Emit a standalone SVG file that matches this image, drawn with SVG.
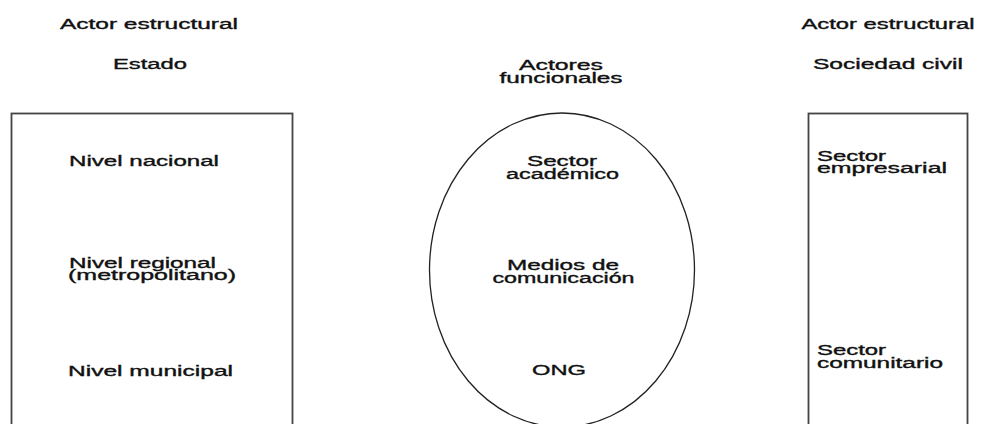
<svg xmlns="http://www.w3.org/2000/svg" width="981" height="424" viewBox="0 0 981 424">
<style>
text{font-family:"Liberation Sans",Arial,sans-serif;font-size:14px;fill:#111;stroke:#111;stroke-width:0.35;}
.m{text-anchor:middle;}
.box{fill:none;stroke:#444;stroke-width:1.8;}
.ell{fill:none;stroke:#222;stroke-width:1.3;}
</style>
<rect width="981" height="424" fill="#fff"/>
<g id="estado">
<text class="m" x="149" y="28.5" textLength="178" lengthAdjust="spacingAndGlyphs">Actor estructural</text>
<text class="m" x="150" y="68.5" textLength="74" lengthAdjust="spacingAndGlyphs">Estado</text>
<rect class="box" x="11.5" y="113.5" width="281" height="330"/>
<text x="69" y="166" textLength="150" lengthAdjust="spacingAndGlyphs">Nivel nacional</text>
<text x="69" y="267.5" textLength="147" lengthAdjust="spacingAndGlyphs">Nivel regional</text>
<text x="68" y="280" textLength="168" lengthAdjust="spacingAndGlyphs">(metropolitano)</text>
<text x="68" y="376" textLength="165" lengthAdjust="spacingAndGlyphs">Nivel municipal</text>
</g>
<g id="funcionales">
<text class="m" x="561" y="70" textLength="84" lengthAdjust="spacingAndGlyphs">Actores</text>
<text class="m" x="561" y="82.5" textLength="123" lengthAdjust="spacingAndGlyphs">funcionales</text>
<ellipse class="ell" cx="562" cy="270" rx="132.5" ry="157"/>
<text class="m" x="562" y="166" textLength="70" lengthAdjust="spacingAndGlyphs">Sector</text>
<text class="m" x="562.5" y="179" textLength="113" lengthAdjust="spacingAndGlyphs">académico</text>
<text class="m" x="563" y="270" textLength="112" lengthAdjust="spacingAndGlyphs">Medios de</text>
<text class="m" x="563.5" y="283" textLength="142" lengthAdjust="spacingAndGlyphs">comunicación</text>
<text class="m" x="559" y="374.5" textLength="54" lengthAdjust="spacingAndGlyphs">ONG</text>
</g>
<g id="sociedad">
<text class="m" x="888" y="29" textLength="173" lengthAdjust="spacingAndGlyphs">Actor estructural</text>
<text class="m" x="888" y="68.5" textLength="150" lengthAdjust="spacingAndGlyphs">Sociedad civil</text>
<rect class="box" x="808.5" y="113.5" width="159" height="330"/>
<text x="817" y="160.5" textLength="69" lengthAdjust="spacingAndGlyphs">Sector</text>
<text x="817" y="173" textLength="130" lengthAdjust="spacingAndGlyphs">empresarial</text>
<text x="817" y="354.5" textLength="69" lengthAdjust="spacingAndGlyphs">Sector</text>
<text x="817" y="367.5" textLength="126" lengthAdjust="spacingAndGlyphs">comunitario</text>
</g>
<g id="connectors"></g>
</svg>
